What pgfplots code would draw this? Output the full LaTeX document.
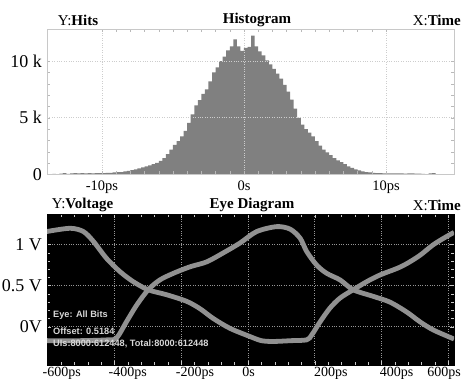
\documentclass[border=0pt]{standalone}
\usepackage{fontspec}
\setmainfont{Liberation Serif}
\newfontfamily\eyefont{Liberation Sans}
\usepackage{pgfplots}
\pgfplotsset{compat=1.18}
\definecolor{histgray}{RGB}{128,128,128}
\definecolor{framegray}{RGB}{200,200,200}
\definecolor{gridgray}{RGB}{205,205,205}
\definecolor{tickgray}{RGB}{185,185,185}
\definecolor{eyegrid}{RGB}{150,150,150}
\definecolor{eyetick}{RGB}{200,200,200}
\definecolor{curvegray}{RGB}{145,145,145}
\definecolor{eyetext}{RGB}{215,215,215}
\begin{document}
\begin{tikzpicture}[x=1bp,y=1bp]
\useasboundingbox (0,0) rectangle (462,379);
% ---------------- Histogram ----------------
\begin{axis}[
  at={(47bp,204.5bp)}, anchor=south west, scale only axis,
  width=407bp, height=145bp,
  xmin=-13.87, xmax=14.79, ymin=0, ymax=12.78,
  axis line style={draw=framegray},
  xtick={-10,0,10}, xticklabels={-10ps,0s,10ps},
  ytick={0,5,10}, yticklabels={0,5 k,10 k},
  minor x tick num=9, minor y tick num=4,
  tick align=inside, major tick length=3bp, minor tick length=3bp,
  every tick/.style={draw=tickgray},
  grid=major, major grid style={dotted, draw=gridgray, line width=0.8bp},
  xticklabel style={font=\fontsize{14.5bp}{16bp}\selectfont, inner sep=0pt},
  xticklabel shift=6bp,
  yticklabel style={font=\fontsize{18bp}{20bp}\selectfont, inner sep=0pt},
  yticklabel shift=5bp,
  axis on top,
]
\addplot[const plot, fill=histgray, draw=none] table {
x y
-13.75 0.00
-13.50 0.05
-13.25 0.00
-13.00 0.08
-12.75 0.13
-12.50 0.05
-12.25 0.10
-12.00 0.12
-11.75 0.10
-11.50 0.12
-11.25 0.11
-11.00 0.12
-10.75 0.10
-10.50 0.12
-10.25 0.13
-10.00 0.12
-9.75 0.14
-9.50 0.15
-9.25 0.18
-9.00 0.20
-8.75 0.22
-8.50 0.28
-8.25 0.31
-8.00 0.38
-7.75 0.46
-7.50 0.55
-7.25 0.63
-7.00 0.72
-6.75 0.80
-6.50 0.92
-6.25 1.03
-6.00 1.20
-5.75 1.45
-5.50 1.80
-5.25 2.20
-5.00 2.62
-4.75 2.95
-4.50 3.35
-4.25 3.85
-4.00 4.55
-3.75 5.30
-3.50 6.10
-3.25 6.55
-3.00 7.10
-2.75 7.50
-2.50 8.20
-2.25 9.00
-2.00 9.45
-1.75 10.00
-1.50 10.40
-1.25 10.95
-1.00 11.30
-0.75 11.90
-0.50 11.30
-0.25 10.90
0.00 11.15
0.25 11.25
0.50 12.25
0.75 11.30
1.00 10.85
1.25 10.50
1.50 10.05
1.75 9.70
2.00 9.30
2.25 8.90
2.50 8.45
2.75 7.90
3.00 7.30
3.25 6.60
3.50 5.80
3.75 5.00
4.00 4.40
4.25 4.00
4.50 3.70
4.75 3.35
5.00 2.95
5.25 2.55
5.50 2.20
5.75 1.95
6.00 1.70
6.25 1.45
6.50 1.25
6.75 1.08
7.00 0.92
7.25 0.72
7.50 0.58
7.75 0.45
8.00 0.36
8.25 0.28
8.50 0.22
8.75 0.18
9.00 0.15
9.25 0.13
9.50 0.12
9.75 0.11
10.00 0.10
10.25 0.11
10.50 0.10
10.75 0.09
11.00 0.10
11.25 0.08
11.50 0.10
11.75 0.09
12.00 0.07
12.25 0.08
12.50 0.05
12.75 0.03
13.00 0.10
13.25 0.12
13.50 0.03
13.75 0.00
14.00 0.00
} \closedcycle;
\end{axis}
% ---------------- Eye diagram ----------------
\begin{axis}[
  at={(47bp,14bp)}, anchor=south west, scale only axis,
  width=407bp, height=151bp,
  xmin=-602, xmax=617, ymin=-0.467, ymax=1.374,
  axis background/.style={fill=black},
  axis line style={draw=black},
  xtick={-600,-400,...,600}, xticklabels={},
  extra x ticks={-558,-360,-159,2,248,445,587},
  extra x tick labels={-600ps,-400ps,-200ps,0s,200ps,400ps,600ps},
  extra x tick style={major tick length=0pt, grid=none},
  ytick={0,0.5,1}, yticklabels={0V,0.5 V,1 V},
  minor x tick num=4, minor y tick num=4,
  tick align=inside, major tick length=4bp, minor tick length=3bp,
  every tick/.style={draw=eyetick},
  grid=major, major grid style={dotted, draw=eyegrid, line width=0.9bp},
  xticklabel style={font=\fontsize{14bp}{16bp}\selectfont, inner sep=0pt},
  xticklabel shift=2bp,
  yticklabel style={font=\fontsize{18bp}{20bp}\selectfont, inner sep=0pt},
  yticklabel shift=5bp,
]
\addplot[smooth, line width=4.8bp, color=curvegray] coordinates {
(-603,1.16) (-533,1.20) (-493,1.16) (-463,1.04) (-423,0.83) (-383,0.67)
(-344,0.55) (-299,0.45) (-244,0.39) (-184,0.31) (-144,0.22) (-104,0.10)
(-54,-0.02) (6,-0.12) (40,-0.17) (75,-0.18) (130,-0.17) (176,-0.16)
(191,-0.10) (216,0.06) (246,0.23) (276,0.35) (315,0.45) (356,0.55)
(395,0.63) (446,0.71) (476,0.77) (515,0.87) (555,1.00) (595,1.10) (617,1.15)
};
\addplot[smooth, line width=4.8bp, color=curvegray] coordinates {
(-603,-0.17) (-500,-0.17) (-420,-0.16) (-394,-0.14) (-364,0.06) (-334,0.26)
(-299,0.45) (-264,0.57) (-224,0.65) (-174,0.73) (-124,0.79) (-74,0.90)
(-24,1.02) (26,1.16) (86,1.22) (126,1.19) (156,1.08) (176,0.915)
(206,0.75) (236,0.65) (276,0.57) (315,0.45) (375,0.37) (425,0.30)
(475,0.18) (515,0.06) (555,-0.04) (617,-0.15)
};
\end{axis}
% ---------------- texts ----------------
\tikzset{ttl/.style={inner sep=0pt, font=\fontsize{15bp}{17bp}\selectfont}}
\node[ttl] at (78,359) {Y:\textbf{Hits}};
\node[ttl] at (257,359) {\textbf{Histogram}};
\node[ttl, anchor=east] at (461,359) {X:\textbf{Time}};
\node[ttl] at (82.5,174) {Y:\textbf{Voltage}};
\node[ttl] at (252,174) {\textbf{Eye Diagram}};
\node[ttl, anchor=east] at (461,174) {X:\textbf{Time}};
\tikzset{eyet/.style={inner sep=0pt, anchor=west, text=eyetext, font=\eyefont\bfseries\fontsize{9.2bp}{10bp}\selectfont}}
\node[eyet] at (53,64) {Eye: All Bits};
\node[eyet] at (53,48) {Offset: 0.5184};
\node[eyet] at (53,35) {UIs:8000:612448, Total:8000:612448};
\end{tikzpicture}
\end{document}
